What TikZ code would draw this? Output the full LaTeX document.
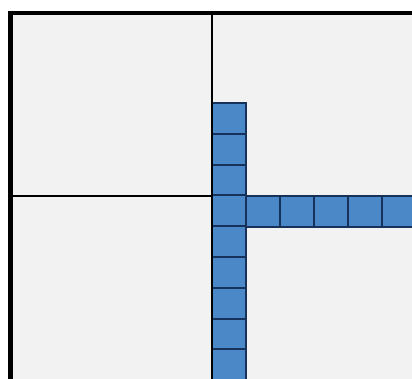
\documentclass[tikz,border=0pt]{standalone}
\definecolor{boardgray}{RGB}{242,242,242}
\definecolor{tilefill}{RGB}{74,136,200}
\definecolor{tileedge}{RGB}{22,50,90}
\tikzset{tile/.style={fill=tilefill,draw=tileedge,line width=2pt}}
\begin{document}
\begin{tikzpicture}[x=1pt,y=-1pt]
\useasboundingbox (0,0) rectangle (412,378);
\clip (0,0) rectangle (412,378);
\fill[boardgray] (10.5,13) rectangle (430,400);
\draw[line width=1.8pt] (10.5,196) -- (430,196);
\foreach \i in {0,...,8}
  \draw[tile] (212,103+30.8*\i) rectangle (246,133.8+30.8*\i);
\foreach \j in {1,...,5}
  \draw[tile] (212+34*\j,196) rectangle (246+34*\j,226.8);
\draw[line width=1.8pt] (212,13) -- (212,400);
\draw[line width=4.5pt] (10.5,400) -- (10.5,13) -- (430,13);
\end{tikzpicture}
\end{document}
